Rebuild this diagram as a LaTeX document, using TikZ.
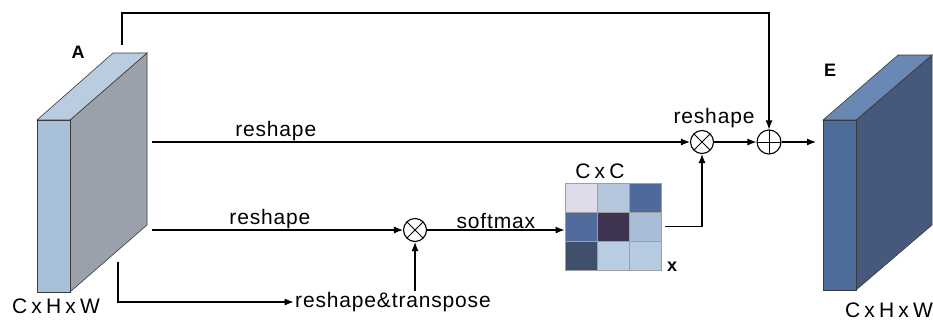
\documentclass[tikz,border=0pt]{standalone}
\usepackage{fontspec}
\setmainfont{Liberation Sans}
\usetikzlibrary{arrows.meta,positioning}

\definecolor{frontA}{HTML}{A9C0D9}
\definecolor{topA}{HTML}{B9CCE0}
\definecolor{sideA}{HTML}{9AA1AB}
\definecolor{frontE}{HTML}{4E6C9A}
\definecolor{topE}{HTML}{6A88B4}
\definecolor{sideE}{HTML}{46587C}
\definecolor{edge}{HTML}{3A3A3A}

\begin{document}
\begin{tikzpicture}[x=1pt, y=-1pt, line width=1.1pt,
    flow/.style={-{Latex[length=9pt,width=7pt]}},
    lbl/.style={font=\fontsize{21}{23}\selectfont\addfontfeature{LetterSpace=4}, inner sep=1pt},
    dims/.style={font=\fontsize{21}{23}\selectfont\addfontfeature{LetterSpace=20}, inner sep=1pt},
    bold/.style={font=\fontsize{18}{20}\selectfont\bfseries, inner sep=0pt},
    prod/.style={circle, draw, minimum size=23pt, inner sep=0pt,
        path picture={\draw[line width=0.8pt] (path picture bounding box.north west) -- (path picture bounding box.south east)
            (path picture bounding box.north east) -- (path picture bounding box.south west);}},
    sum/.style={circle, draw, minimum size=24pt, inner sep=0pt,
        path picture={\draw[line width=0.8pt] (path picture bounding box.north) -- (path picture bounding box.south)
            (path picture bounding box.east) -- (path picture bounding box.west);}},
    cell/.style={draw=gray!75, line width=0.8pt, minimum width=32pt, minimum height=29pt, inner sep=0pt}]

    \useasboundingbox (0,0) rectangle (933,322);

    % Feature map A
    \filldraw[fill=sideA, draw=edge, line width=0.6pt] (70,120) -- (147,53) -- (147,225) -- (70,292) -- cycle;
    \filldraw[fill=topA, draw=edge, line width=0.6pt] (37,120) -- (113,53) -- (147,53) -- (70,120) -- cycle;
    \filldraw[fill=frontA, draw=edge, line width=0.6pt] (37,120) rectangle (70,292);
    \node[bold] (nameA) at (78,52) {A};
    \node[dims] (sizeA) at (56,306) {CxHxW};

    % Feature map E
    \filldraw[fill=sideE, draw=edge, line width=0.6pt] (856,120) -- (932,55) -- (932,225) -- (856,290) -- cycle;
    \filldraw[fill=topE, draw=edge, line width=0.6pt] (823,120) -- (898,55) -- (932,55) -- (856,120) -- cycle;
    \filldraw[fill=frontE, draw=edge, line width=0.6pt] (823,120) rectangle (856,290);
    \node[bold] (nameE) at (830,70) {E};
    \node[dims] (sizeE) at (889,310) {CxHxW};

    % Attention map
    \foreach \r/\c/\col in {0/0/DCDCEA, 0/1/B4C6DC, 0/2/4E6A9A,
                            1/0/4F6B9C, 1/1/3E3451, 1/2/A9BDD6,
                            2/0/3F4F6C, 2/1/B8CCE2, 2/2/B6CAE0}{
        \definecolor{tint}{HTML}{\col}
        \node[cell, fill=tint] (cell-\r-\c) at (581+32*\c, 197.5+29*\r) {};
    }
    \node[dims] (sizeC) at (600,171) {CxC};
    \node[bold] (mark) at (672,267) {x};

    % Operators
    \node[prod] (prodA) at (415,230) {};
    \node[prod] (prodB) at (702,142) {};
    \node[sum] (plus) at (769,142) {};
    \node[lbl] (trans) at (393,302) {reshape\&transpose};
    \node[lbl] (reshC) at (714,118) {reshape};

    % Ports
    \coordinate (skipA) at (122,45);
    \coordinate (outA1) at (152,142);
    \coordinate (outA2) at (152,230);
    \coordinate (outA3) at (118,262);
    \coordinate (inE) at (816,142);

    % Connections
    \draw[flow] (skipA) -- (122,13) -| (plus.north);
    \draw[flow] (outA1) -- node[lbl, above, pos=0.23] {reshape} (prodB.west);
    \draw[flow] (outA2) -- node[lbl, above, pos=0.47] {reshape} (prodA.west);
    \draw[flow] (prodA.east) -- node[lbl, above] {softmax} (prodA -| cell-1-0.west);
    \draw[flow] ([xshift=4pt]cell-1-2.east) -| (prodB.south);
    \draw[flow] (prodB.east) -- (plus.west);
    \draw[flow] (plus.east) -- (inE);
    \draw[flow] (outA3) |- (trans.west);
    \draw[flow] (trans.north -| prodA) -- (prodA.south);

\end{tikzpicture}
\end{document}
